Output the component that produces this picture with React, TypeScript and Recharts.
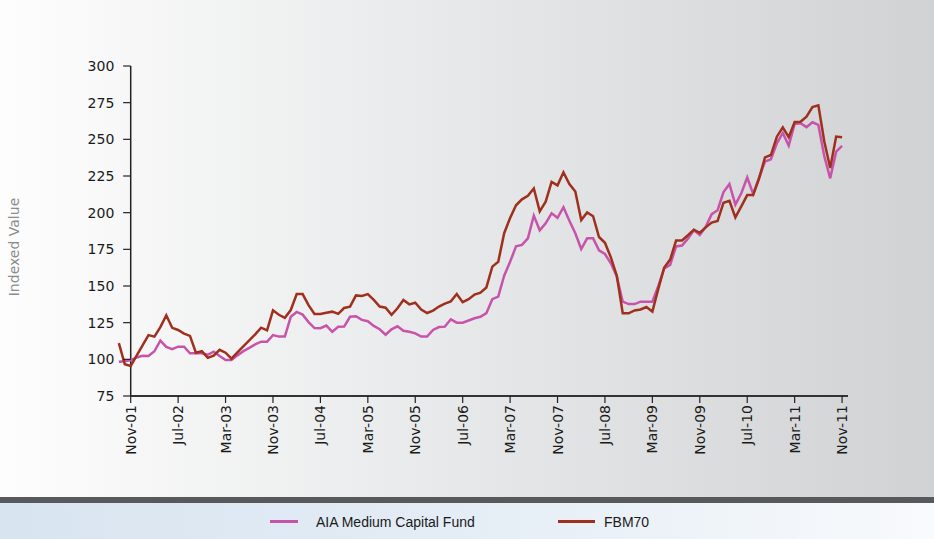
import { LineChart, Line, XAxis, YAxis, ReferenceLine } from "recharts"

// months counted from Nov-01 (index 0); series start two months earlier
const startMonth = -2

const aiaValues = [
  98.4, 98.7, 99.5, 101.3, 102.4, 102.3, 105.5, 112.8, 108.5, 106.9,
  108.6, 108.6, 104.1, 104.1, 104.1, 103.1, 105.2, 102.3, 99.6, 99.5,
  102.7, 105.6, 107.8, 110.2, 112, 112, 116.5, 115.5, 115.5, 129,
  132.3, 130.5, 125.4, 121.3, 121.2, 123, 118.8, 122.2, 122.3, 129,
  129.4, 126.9, 126, 122.8, 120.5, 116.8, 120.5, 122.5, 119.5, 118.8,
  117.7, 115.5, 115.5, 120, 122, 122.3, 127.3, 125, 125, 126.5,
  128, 129, 131.5, 141, 142.8, 157, 166.5, 177, 178, 182.5,
  198, 188, 192.7, 199.6, 196.5, 203.7, 194.5, 186, 175.2, 182.5,
  182.5, 174.3, 171.8, 165.5, 156.4, 139.3, 137.7, 137.7, 139.3, 139.3,
  139.3, 150, 162, 164.4, 177, 177.6, 182.3, 188, 184.8, 190.4,
  199, 201.7, 214, 219.5, 205.5, 213.2, 224, 212.8, 224, 234.8,
  236.4, 247.3, 254.4, 245.7, 260.5, 261, 258.3, 261.6, 259.8, 238.5,
  223.4, 241.6, 245.5,
]

const fbmValues = [
  111, 96.6, 95.5, 102.5, 109.5, 116.5, 115.5, 122, 130, 121.5,
  120, 117.5, 116, 104.5, 105.5, 101, 102.5, 106.5, 104.5, 100.5,
  104.8, 108.8, 112.9, 117, 121.6, 119.8, 133.4, 130.4, 128.3, 133.6,
  144.5, 144.5, 137, 130.9, 130.9, 131.7, 132.5, 131, 135, 135.9,
  143.6, 143.2, 144.5, 140.5, 136, 135.2, 130.4, 134.8, 140.5, 137.5,
  138.6, 134, 131.6, 133.2, 136, 138, 139.5, 144.5, 139, 141,
  144.2, 145.4, 149, 163.2, 166.5, 186, 196.3, 205, 209.1, 211.5,
  216.5, 200.9, 207.5, 221, 218.6, 227.5, 219.5, 214.4, 195, 200.2,
  197.6, 183.4, 179.5, 169.5, 157, 131.4, 131.4, 133.3, 134, 135.7,
  132.5, 148, 162.6, 168, 181, 181, 184.6, 188.4, 186.3, 190,
  193.2, 194.4, 206.8, 208.1, 196.8, 204.3, 212, 212, 223.2, 237.7,
  239.3, 251.8, 258.2, 251.5, 261.8, 262, 265.5, 272, 273.2, 248.5,
  230.5, 251.9, 251.4,
]

const tickMonths = [0, 8, 16, 24, 32, 40, 48, 56, 64, 72, 80, 88, 96, 104, 112, 120]
const tickLabels = [
  "Nov-01", "Jul-02", "Mar-03", "Nov-03", "Jul-04", "Mar-05", "Nov-05", "Jul-06",
  "Mar-07", "Nov-07", "Jul-08", "Mar-09", "Nov-09", "Jul-10", "Mar-11", "Nov-11",
]
const yTicks = [75, 100, 125, 150, 175, 200, 225, 250, 275, 300]

const seriesNames = ["AIA Medium Capital Fund", "FBM70"]
const seriesColors = ["#c853aa", "#9e301d"]

const data = aiaValues.map((v, i) => ({
  m: startMonth + i,
  aia: v,
  fbm: fbmValues[i],
}))

const font = "'DejaVu Sans', sans-serif"

function XTick(props: any) {
  const { x, y, payload } = props
  const label = tickLabels[tickMonths.indexOf(payload.value)]
  return (
    <text
      x={x}
      y={y}
      transform={`rotate(-90 ${x} ${y})`}
      textAnchor="end"
      dominantBaseline="central"
      fontSize={14}
      fontFamily={font}
      fill="#1a1a1a"
    >
      {label}
    </text>
  )
}

function YTick(props: any) {
  const { x, y, payload } = props
  return (
    <g>
      <line x1={x + 4.3} x2={x + 11.9} y1={y} y2={y} stroke="#222" strokeWidth={1.2} />
      <text
        x={x - 4.5}
        y={y}
        textAnchor="end"
        dominantBaseline="central"
        fontSize={14}
        fontFamily={font}
        fill="#1a1a1a"
      >
        {payload.value}
      </text>
    </g>
  )
}

export default function App() {
  return (
    <div style={{ position: "relative", width: 934, height: 539, overflow: "hidden" }}>
      <style>{"body{margin:0}"}</style>
      <div
        style={{
          position: "absolute",
          left: 0,
          top: 0,
          width: 934,
          height: 497,
          background: "linear-gradient(to right, #fdfdfd, #e9eaeb 45%, #d1d2d4)",
        }}
      />
      <div style={{ position: "absolute", left: 0, top: 497, width: 934, height: 6, background: "#58595b" }} />
      <div
        style={{
          position: "absolute",
          left: 0,
          top: 503,
          width: 934,
          height: 36,
          background: "linear-gradient(to right, #d8e4f0, #e6eef6 55%, #f8fafc)",
        }}
      />
      <div
        style={{
          position: "absolute",
          left: 14,
          top: 247,
          transform: "translate(-50%, -50%) rotate(-90deg)",
          whiteSpace: "nowrap",
          fontFamily: font,
          fontSize: 14,
          color: "#8c8c8c",
        }}
      >
        Indexed Value
      </div>
      <div style={{ position: "absolute", left: 0, top: 0 }}>
        <LineChart width={934} height={497} data={data} margin={{ top: 66, right: 86, bottom: 31, left: 58.85 }}>
          <XAxis
            dataKey="m"
            type="number"
            domain={[-2, 121]}
            ticks={tickMonths}
            interval={0}
            axisLine={false}
            tickSize={7}
            tickLine={{ stroke: "#222", strokeWidth: 1.2 }}
            tick={XTick}
            height={70}
          />
          <YAxis
            type="number"
            domain={[75, 300]}
            ticks={yTicks}
            interval={0}
            width={60}
            axisLine={false}
            tickLine={false}
            tickSize={0}
            tickMargin={0}
            tick={YTick}
          />
          <ReferenceLine segment={[{ x: 0, y: 75 }, { x: 0, y: 300 }]} stroke="#222" strokeWidth={1.5} />
          <ReferenceLine segment={[{ x: 0, y: 75 }, { x: 121, y: 75 }]} stroke="#333" strokeWidth={1.8} />
          <Line
            type="linear"
            dataKey="aia"
            name={seriesNames[0]}
            stroke={seriesColors[0]}
            strokeWidth={2.5}
            dot={false}
            isAnimationActive={false}
          />
          <Line
            type="linear"
            dataKey="fbm"
            name={seriesNames[1]}
            stroke={seriesColors[1]}
            strokeWidth={2.5}
            dot={false}
            isAnimationActive={false}
          />
        </LineChart>
      </div>
      {[
        { left: 270, width: 28, textLeft: 316 },
        { left: 558, width: 37, textLeft: 604 },
      ].map((item, i) => (
        <div key={seriesNames[i]}>
          <div
            style={{
              position: "absolute",
              left: item.left,
              top: 520,
              width: item.width,
              height: 3,
              background: seriesColors[i],
            }}
          />
          <div
            style={{
              position: "absolute",
              left: item.textLeft,
              top: 513,
              lineHeight: "18px",
              fontFamily: "'Liberation Sans', Arial, sans-serif",
              fontSize: 14,
              color: "#1a1a1a",
              whiteSpace: "nowrap",
            }}
          >
            {seriesNames[i]}
          </div>
        </div>
      ))}
    </div>
  )
}
